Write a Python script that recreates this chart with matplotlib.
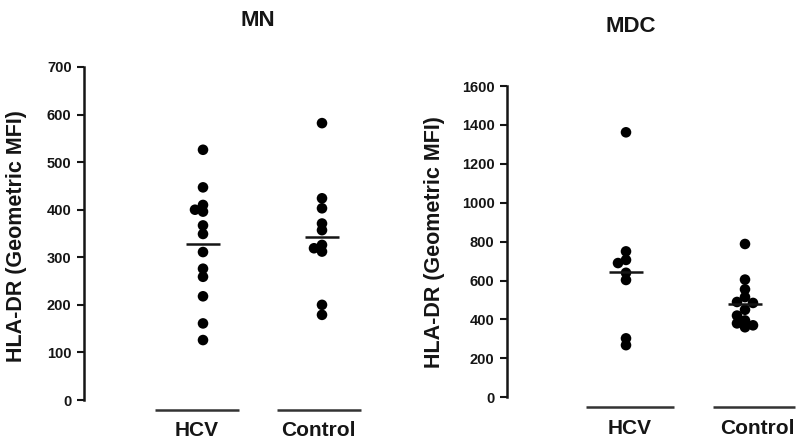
import numpy as np
import matplotlib
matplotlib.use("Agg")
import matplotlib.pyplot as plt

plt.rcParams['font.family'] = ['Liberation Sans', 'DejaVu Sans']
plt.rcParams['font.weight'] = 'bold'

# ---- data ----
groups = ["HCV", "Control"]
mn_hcv = [526, 447, 410, 400, 396, 367, 349, 311, 276, 259, 218, 161, 126]
mn_control = [582, 424, 403, 371, 357, 326, 319, 312, 200, 179]
mn_means = [327, 343]
mdc_hcv = [1362, 750, 706, 690, 640, 603, 303, 268]
mdc_control = [788, 605, 555, 515, 490, 485, 450, 420, 395, 380, 370, 360]
mdc_means = [642, 478]
mn_ticks = [0, 100, 200, 300, 400, 500, 600, 700]
mdc_ticks = [0, 200, 400, 600, 800, 1000, 1200, 1400, 1600]
ylabel = "HLA-DR (Geometric MFI)"

W, H = 798, 447
fig = plt.figure(figsize=(W / 100, H / 100), dpi=100)

INK = "#151515"


def swarm_offsets(ax, values, xc, thr=6.0, step=8.0):
    """simple beeswarm: x data positions avoiding heavy overlap (pixel space)"""
    trans = ax.transData
    inv = trans.inverted()
    placed = []
    order = sorted(range(len(values)), key=lambda i: -values[i])
    res = [None] * len(values)
    for i in order:
        px, py = trans.transform((xc, values[i]))
        cx = px
        for k in [0, -1, 1, -2, 2, -3, 3]:
            cx = px + k * step
            if all(np.hypot(cx - qx, py - qy) >= thr for qx, qy in placed):
                break
        placed.append((cx, py))
        res[i] = inv.transform((cx, py))[0]
    return res


def panel(rect, title, series, means, ticks, ymax, line_spans, label_x, title_xy,
          ylab_xy):
    ax = fig.add_axes(rect)
    ax.set_xlim(0, rect[2] * W / 119.0)
    ax.set_ylim(0, ymax)
    for s in ["top", "right", "bottom"]:
        ax.spines[s].set_visible(False)
    ax.spines["left"].set_linewidth(1.8)
    ax.spines["left"].set_color(INK)
    ax.set_xticks([])
    ax.set_yticks(ticks)
    ax.set_yticklabels([str(t) for t in ticks], fontsize=10.5, fontweight="bold")
    ax.tick_params(axis="y", direction="out", length=5, width=1.5, color=INK,
                   pad=4, labelcolor=INK)
    for j, vals in enumerate(series):
        xc = j + 1
        xs = swarm_offsets(ax, vals, xc)
        ax.scatter(xs, vals, s=58, color="black", edgecolors="none", zorder=3,
                   clip_on=False)
        ax.plot([xc - 0.145, xc + 0.145], [means[j], means[j]], color=INK, lw=1.8,
                zorder=4, solid_capstyle="butt")
    ypx = ymax / (rect[3] * H)
    for j, (a, b) in enumerate(line_spans):
        ax.plot([a, b], [-10 * ypx, -10 * ypx], color="#333333", lw=1.8,
                clip_on=False, solid_capstyle="butt")
        ax.text(label_x[j], -31 * ypx, groups[j], ha="center", va="center",
                fontsize=15, fontweight="bold", color=INK, clip_on=False)
    fig.text(title_xy[0] / W, 1 - title_xy[1] / H, title, ha="center",
             va="center", fontsize=16, fontweight="bold", color=INK)
    ax.set_ylabel(ylabel, fontsize=15.5, fontweight="bold", color=INK)
    ax.yaxis.set_label_coords(ylab_xy[0] / W, 1 - ylab_xy[1] / H,
                              transform=fig.transFigure)
    return ax


# left panel: spine x=84, y 67..400
left_rect = [84 / W, (H - 400) / H, (380 - 84) / W, (400 - 67) / H]
ax1 = panel(left_rect, "MN", [mn_hcv, mn_control], mn_means, mn_ticks, 700,
            [(0.597, 1.30), (1.62, 2.33)], [0.95, 1.97], (258, 20), (27, 236))

# right panel: spine x=507, y 86..397
right_rect = [507 / W, (H - 397.3) / H, (797 - 507) / W, (397.3 - 86) / H]
ax2 = panel(right_rect, "MDC", [mdc_hcv, mdc_control], mdc_means, mdc_ticks, 1600,
            [(0.66, 1.40), (1.73, 2.42)], [1.03, 2.10], (631, 27), (445, 242))

fig.savefig("out.png", dpi=100, facecolor="white")
